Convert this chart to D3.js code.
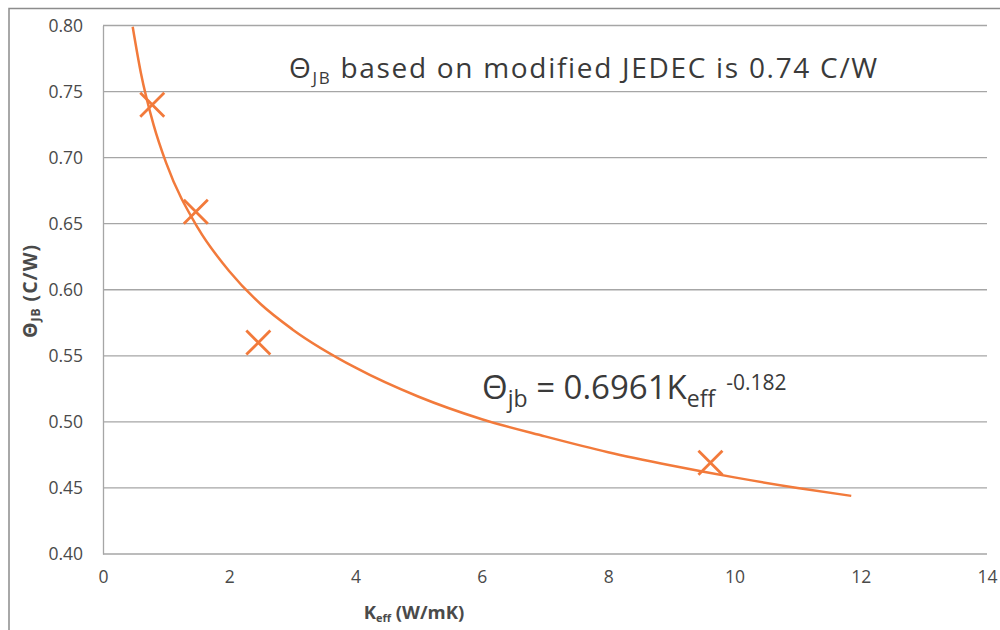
<!DOCTYPE html>
<html>
<head>
<meta charset="utf-8">
<script src="https://cdn.jsdelivr.net/npm/d3@7"></script>
<style>
  body { margin: 0; background: #fff; }
  text { font-family: "Open Sans", sans-serif; }
</style>
</head>
<body>
<script>
// Theta_JB vs K_eff, measured points + power-law trendline

var keffVals = [0.78, 1.47, 2.46, 9.62];
var thetaVals = [0.74, 0.659, 0.56, 0.469];

// trendline points
var trendK = [0.47, 0.6, 0.8, 1, 1.5, 2, 2.5, 3, 4, 5, 6, 7, 8, 9, 10, 11, 11.85];
var trendTheta = [0.799, 0.764, 0.725, 0.696, 0.647, 0.614, 0.589, 0.570, 0.541, 0.519, 0.502, 0.489, 0.477, 0.467, 0.458, 0.450, 0.444];

var xTicks = [0, 2, 4, 6, 8, 10, 12, 14];
var yTicks = [0.40, 0.45, 0.50, 0.55, 0.60, 0.65, 0.70, 0.75, 0.80];

var orange = "#F27A3B";
var grid = "#a6a6a6";
var labelCol = "#4a4a4a";
var textCol = "#3a3a3a";

var svg = d3.select("body").append("svg")
    .attr("width", 1000)
    .attr("height", 630);

// outer chart border (left + top only visible)
svg.append("path")
    .attr("d", "M9,630V8.5H1000")
    .attr("fill", "none")
    .attr("stroke", "#8c8c8c")
    .attr("stroke-width", 1.5);

var x = d3.scaleLinear().domain([0, 14]).range([103, 987]);
var y = d3.scaleLinear().domain([0.40, 0.80]).range([554, 25.5]);

// horizontal gridlines
svg.selectAll("line.grid")
    .data(yTicks)
    .enter().append("line")
    .attr("class", "grid")
    .attr("x1", x(0))
    .attr("x2", x(14))
    .attr("y1", function(d) { return y(d); })
    .attr("y2", function(d) { return y(d); })
    .attr("stroke", grid)
    .attr("stroke-width", 1.3);

// y axis
var yAxis = svg.append("g")
    .attr("transform", "translate(" + x(0) + ",0)")
    .call(d3.axisLeft(y).tickValues(yTicks).tickFormat(d3.format(".2f")).tickSize(0).tickPadding(20));
yAxis.select(".domain").attr("stroke", grid).attr("stroke-width", 1.3);
yAxis.selectAll("text")
    .attr("font-size", 17.5)
    .attr("fill", labelCol)
    .attr("font-family", "Open Sans, sans-serif");

// x axis (no line, just labels)
var xAxis = svg.append("g")
    .attr("transform", "translate(0," + y(0.40) + ")")
    .call(d3.axisBottom(x).tickValues(xTicks).tickFormat(d3.format("d")).tickSize(0).tickPadding(17));
xAxis.select(".domain").remove();
xAxis.selectAll("text")
    .attr("font-size", 17.5)
    .attr("fill", labelCol)
    .attr("font-family", "Open Sans, sans-serif");

// trendline
var line = d3.line()
    .x(function(d, i) { return x(trendK[i]); })
    .y(function(d, i) { return y(trendTheta[i]); })
    .curve(d3.curveMonotoneX);

svg.append("path")
    .datum(trendK)
    .attr("d", line)
    .attr("fill", "none")
    .attr("stroke", orange)
    .attr("stroke-width", 2.5);

// X markers
var m = 12;
var marks = svg.selectAll("g.mark")
    .data(keffVals)
    .enter().append("g")
    .attr("class", "mark")
    .attr("transform", function(d, i) { return "translate(" + x(d) + "," + y(thetaVals[i]) + ")"; });
marks.append("path")
    .attr("d", "M" + (-m) + "," + (-m) + "L" + m + "," + m + "M" + (-m) + "," + m + "L" + m + "," + (-m))
    .attr("stroke", orange)
    .attr("stroke-width", 2.8)
    .attr("fill", "none");

// axis titles
svg.append("text")
    .attr("x", 414)
    .attr("y", 619)
    .attr("text-anchor", "middle")
    .attr("font-size", 18.5)
    .attr("font-weight", "bold")
    .attr("fill", labelCol)
    .html('K<tspan font-size="11" dy="3">eff</tspan><tspan dy="-3"> (W/mK)</tspan>');

svg.append("text")
    .attr("transform", "translate(37,291) rotate(-90)")
    .attr("text-anchor", "middle")
    .attr("font-size", 19.5)
    .attr("font-weight", "bold")
    .attr("letter-spacing", 1)
    .attr("fill", labelCol)
    .html('Θ<tspan font-size="12" dy="3">JB</tspan><tspan dy="-3">  (C/W)</tspan>');

// annotations
svg.append("text")
    .attr("x", 289)
    .attr("y", 78)
    .attr("font-size", 28)
    .attr("letter-spacing", 1.7)
    .attr("fill", textCol)
    .html('Θ<tspan font-size="17" dy="6">JB</tspan><tspan dy="-6"> based on modified  JEDEC is 0.74 C/W</tspan>');

svg.append("text")
    .attr("x", 482)
    .attr("y", 399)
    .attr("font-size", 33)
    .attr("fill", textCol)
    .html('Θ<tspan font-size="23" dy="8">jb</tspan><tspan dy="-8"> = 0.6961K</tspan><tspan font-size="23" dy="8">eff</tspan><tspan font-size="21" dx="11" dy="-17">-0.182</tspan>');
</script>
</body>
</html>
